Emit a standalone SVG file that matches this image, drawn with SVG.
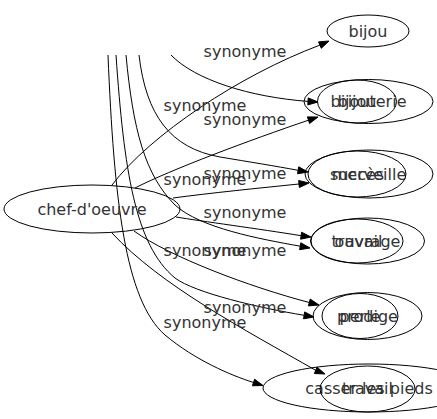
<svg xmlns="http://www.w3.org/2000/svg" width="437" height="419" viewBox="0 0 437 419">
<style>
  .n { fill: none; stroke: #000; stroke-width: 1; }
  .e { fill: none; stroke: #000; stroke-width: 1; }
  .a { fill: #000; stroke: #000; stroke-width: 1; }
  text { font-family: "DejaVu Sans", "Liberation Sans", sans-serif; font-size: 16px; fill: #333; text-anchor: middle; }
</style>
<rect width="437" height="419" fill="#fff"/>
<g id="connectors">
  <!-- from chef-d'oeuvre -->
  <path class="e" d="M112,185 C150,135 240,75 319.9,45.1"/>
  <polygon class="a" points="329,41 321.3,48.3 318.5,41.9"/>
  <path class="e" d="M135,188 C170,170 250,140 308.5,120.2"/>
  <polygon class="a" points="318,117 309.6,123.5 307.4,116.9"/>
  <path class="e" d="M173,198 C210,193 260,188 299,184"/>
  <polygon class="a" points="309,183 299.35,187.5 298.65,180.5"/>
  <path class="e" d="M176,217 C200,221 260,229 301.1,235.7"/>
  <polygon class="a" points="311,237 300.6,239.2 301.6,232.2"/>
  <path class="e" d="M134,231 C170,257 250,287 309.3,302.5"/>
  <polygon class="a" points="319,305 308.4,305.9 310.2,299.1"/>
  <path class="e" d="M112,233 C160,285 245,330 315.7,370.3"/>
  <polygon class="a" points="325,374 314.4,373.5 317,367.1"/>
  <!-- from above -->
  <path class="e" d="M171,55 C195,80 250,97 308,101.4"/>
  <polygon class="a" points="318,102 307.8,104.9 308.2,97.9"/>
  <path class="e" d="M139,55 C146,115 170,148 220,157 C250,162 275,166 298.1,170.3"/>
  <polygon class="a" points="308,172 297.5,173.8 298.7,166.8"/>
  <path class="e" d="M126,55 C133,130 145,175 175,205 C200,228 260,239 300.2,246.2"/>
  <polygon class="a" points="310,248 299.6,249.7 300.8,242.8"/>
  <path class="e" d="M116,55 C124,170 135,245 175,278 C195,293 260,308 304.1,315.3"/>
  <polygon class="a" points="314,317 303.5,318.8 304.7,311.9"/>
  <path class="e" d="M108,55 C114,200 125,300 165,335 C195,360 230,375 253.5,382.5"/>
  <polygon class="a" points="263,385.5 252.4,385.8 254.6,379.2"/>
  <!-- labels -->
  <text x="245" y="57">synonyme</text>
  <text x="245" y="125">synonyme</text>
  <text x="245" y="179">synonyme</text>
  <text x="245" y="218">synonyme</text>
  <text x="245" y="256">synonyme</text>
  <text x="245" y="313">synonyme</text>
  <text x="205" y="111">synonyme</text>
  <text x="205" y="185">synonyme</text>
  <text x="205" y="256">synonyme</text>
  <text x="205" y="328">synonyme</text>
</g>
<g id="chef-d-oeuvre"><ellipse class="n" cx="92" cy="209" rx="88" ry="24"/><text x="92" y="214.5">chef-d'oeuvre</text></g>
<g id="bijou"><ellipse class="n" cx="368" cy="31" rx="41" ry="16"/><text x="368" y="36.5">bijou</text></g>
<g id="bijouterie"><ellipse class="n" cx="368.5" cy="101.5" rx="64.5" ry="22"/><text x="368.5" y="107">bijouterie</text></g>
<g id="bijou-2"><ellipse class="n" cx="357" cy="101.5" rx="39.5" ry="21.5"/><text x="357" y="107">bijou</text></g>
<g id="merveille"><ellipse class="n" cx="369" cy="174" rx="64" ry="24"/><text x="369" y="179.5">merveille</text></g>
<g id="succes"><ellipse class="n" cx="357" cy="174" rx="49" ry="23"/><text x="357" y="179.5">succès</text></g>
<g id="ouvrage"><ellipse class="n" cx="367.5" cy="241" rx="57" ry="23"/><text x="367.5" y="246.5">ouvrage</text></g>
<g id="travail"><ellipse class="n" cx="357" cy="241" rx="46" ry="22"/><text x="357" y="246.5">travail</text></g>
<g id="prodige"><ellipse class="n" cx="367.5" cy="316" rx="54.5" ry="23.5"/><text x="367.5" y="321.5">prodige</text></g>
<g id="perle"><ellipse class="n" cx="360" cy="316" rx="38" ry="22.5"/><text x="360" y="321.5">perle</text></g>
<g id="casser-les-pieds"><ellipse class="n" cx="369" cy="388" rx="106" ry="24"/><text x="369" y="393.5">casser les pieds</text></g>
<g id="travail-2"><ellipse class="n" cx="367.5" cy="389" rx="47.5" ry="23"/><text x="367.5" y="394">travail</text></g>
</svg>
